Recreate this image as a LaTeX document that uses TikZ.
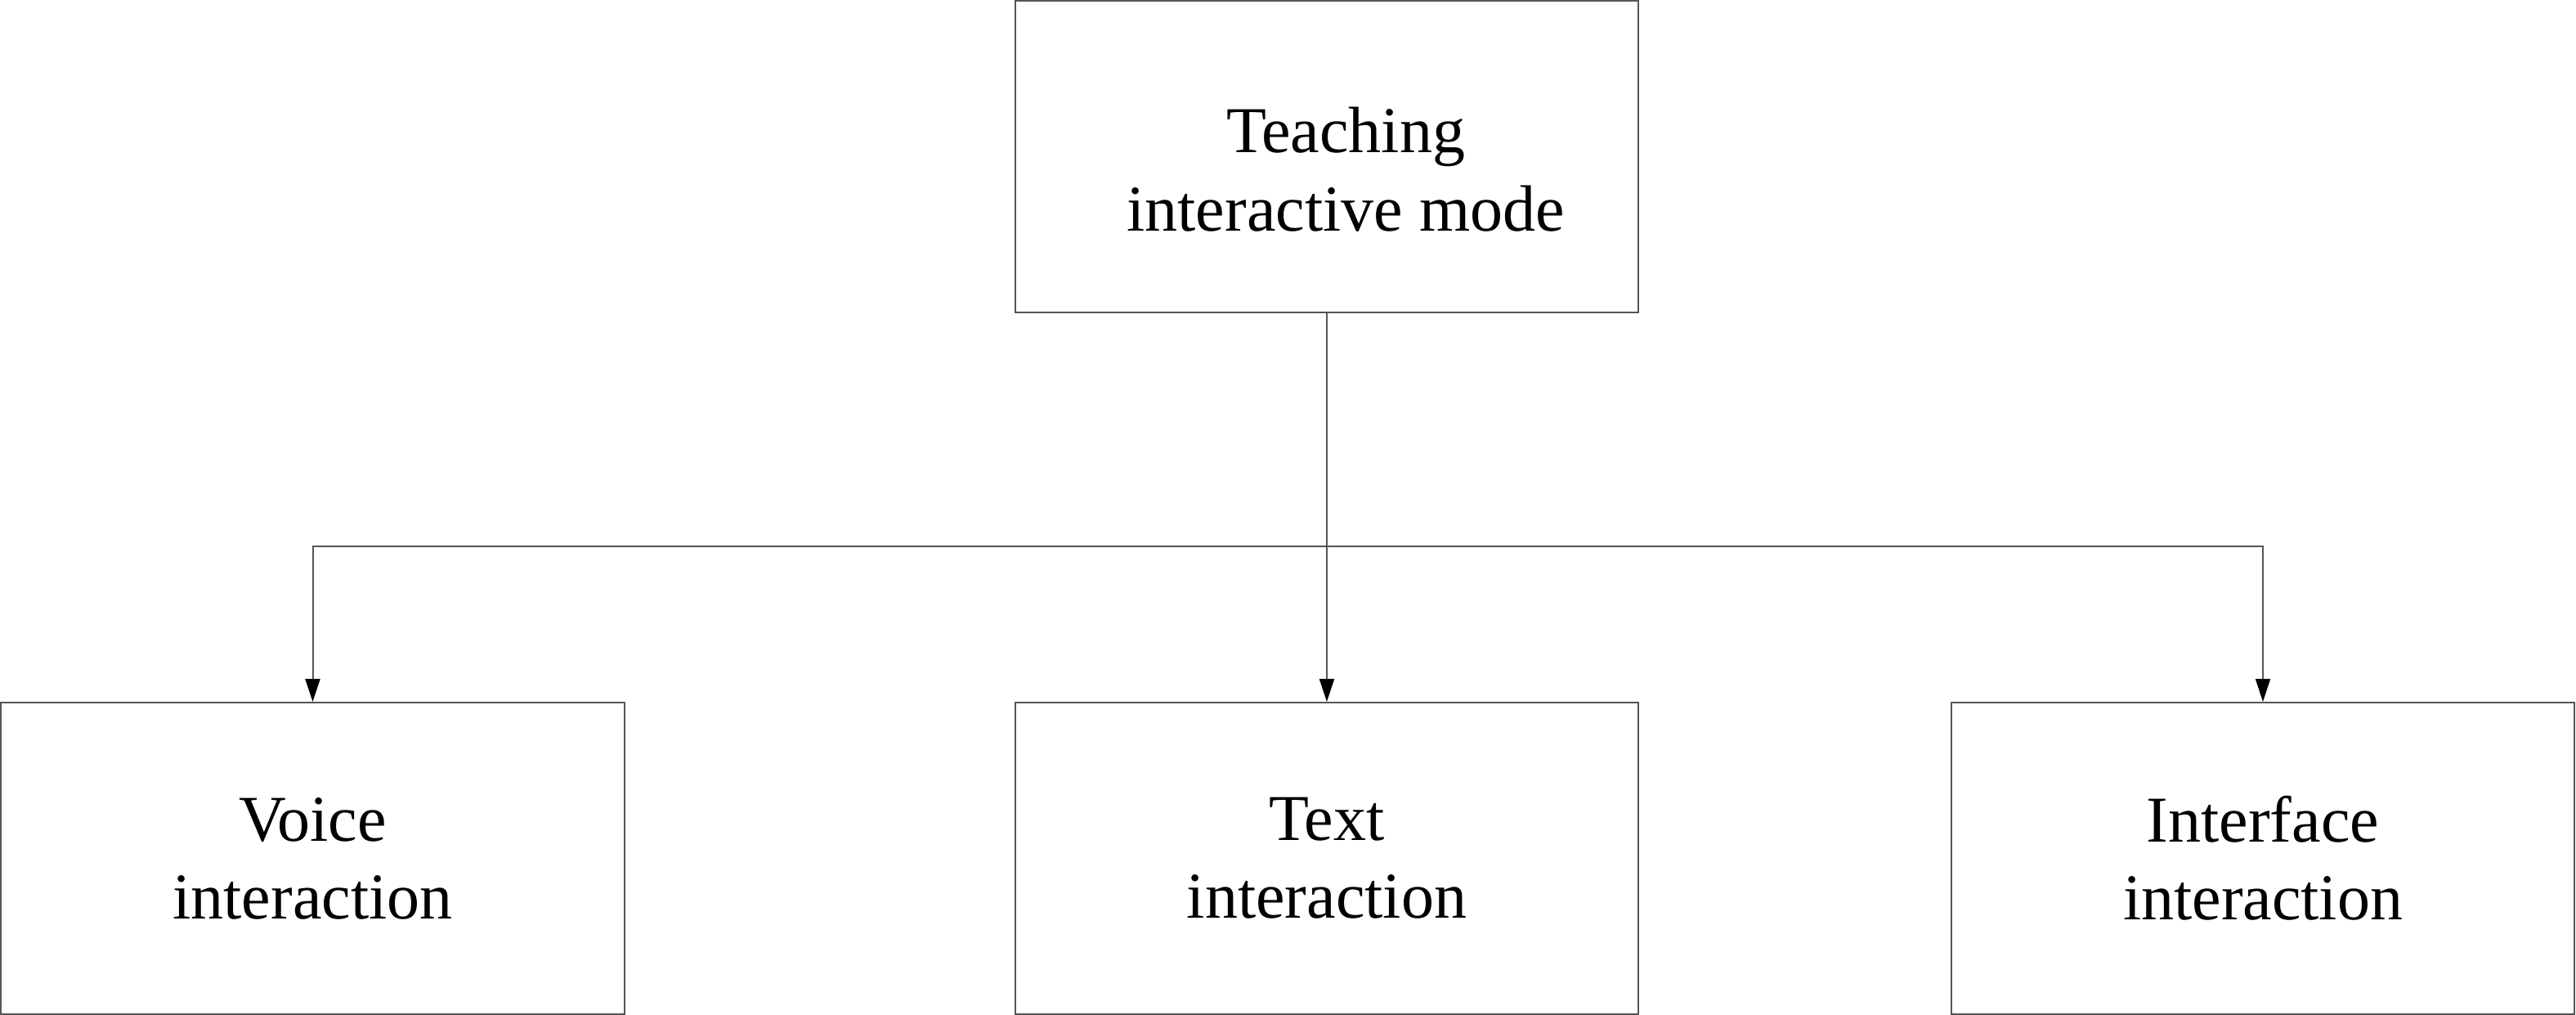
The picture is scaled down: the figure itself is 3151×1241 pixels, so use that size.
\documentclass[tikz,border=0pt]{standalone}
\usepackage{fontspec}
\setmainfont{Liberation Serif}
\usetikzlibrary{arrows.meta}
\definecolor{linegray}{HTML}{555555}
\tikzset{
  box/.style={draw=linegray, line width=1pt, rectangle, inner sep=0pt,
    minimum width=381pt, minimum height=190.5pt, align=center,
    font=\fontsize{40pt}{47.5pt}\selectfont, text=black},
  conn/.style={draw=linegray, line width=1pt},
  arr/.style={conn, -{Triangle[length=14pt,width=9pt,color=black]}}
}
\begin{document}
\begin{tikzpicture}[x=0.5pt,y=-0.5pt]
\useasboundingbox (0,0) rectangle (3151,1241);
\fill[white] (0,0) rectangle (3151,1241);
\node[box] (top) at (1623,191.5) {\hspace*{23pt}\raisebox{-12pt}[33.25pt][61.75pt]{\begin{tabular}[t]{@{}c@{}}Teaching\\interactive mode\end{tabular}}};
\node[box, minimum width=381.5pt] (voice) at (382.5,1049.5) {Voice\\interaction};
\node[box] (text) at (1623,1049.5) {Text\\interaction};
\node[box] (iface) at (2768,1049.5) {Interface\\interaction};
\coordinate (j) at (1623,668);
\draw[arr] (top.south) -- (text.north);
\draw[arr] (j) -| (voice.north);
\draw[arr] (j) -| (iface.north);
\end{tikzpicture}
\end{document}
